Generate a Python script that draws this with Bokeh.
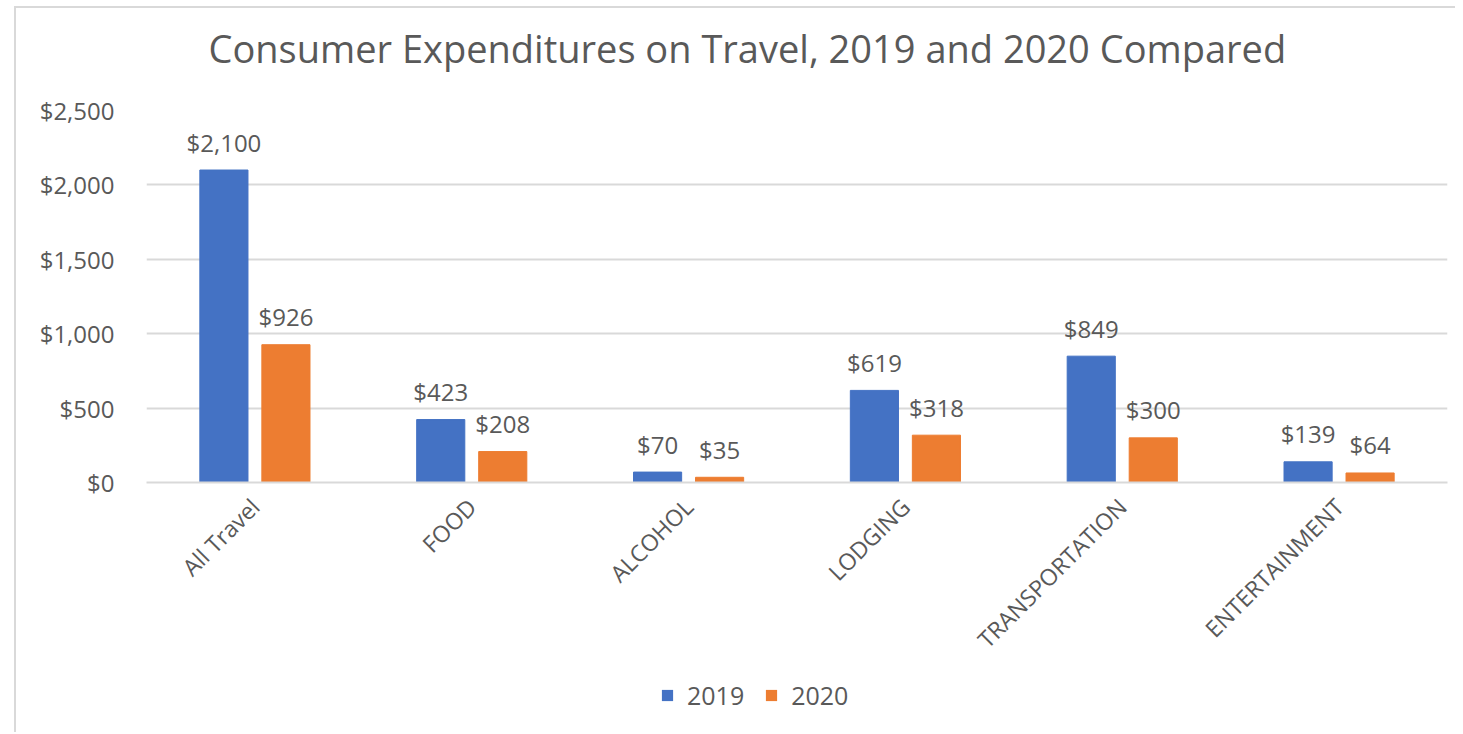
import math
from bokeh.plotting import figure
from bokeh.layouts import column
from bokeh.models import (ColumnDataSource, Legend, LegendItem, NumeralTickFormatter,
                          FixedTicker, Range1d, Title)
from bokeh.transform import dodge
from bokeh.core.properties import value
from bokeh.embed import file_html
from bokeh.resources import INLINE

categories = ["All Travel", "FOOD", "ALCOHOL", "LODGING", "TRANSPORTATION", "ENTERTAINMENT"]
spend_2019 = [2100, 423, 70, 619, 849, 139]
spend_2020 = [926, 208, 35, 318, 300, 64]
y_ticks = [0, 500, 1000, 1500, 2000, 2500]
series_names = ["2019", "2020"]

FONT = "Open Sans"
GRAY = "#595959"
GRID = "#d9d9d9"
C2019 = "#4472C4"
C2020 = "#ED7D31"

src = ColumnDataSource(dict(
    cat=categories,
    v19=spend_2019,
    v20=spend_2020,
    l19=["${:,}".format(v) for v in spend_2019],
    l20=["${:,}".format(v) for v in spend_2020],
))

p = figure(width=1439, height=660, x_range=categories, y_range=Range1d(0, 2500),
           output_backend="svg", toolbar_location=None, title=None,
           min_border_left=130, min_border_right=8, min_border_top=102, min_border_bottom=186)

# spacer (closest to frame), then the real title above it
p.add_layout(Title(text="\u00a0", text_font=FONT, text_font_size="14px", standoff=11), "above")
p.add_layout(Title(text="Consumer  Expenditures on Travel, 2019 and 2020 Compared",
                   text_font=FONT, text_font_size="38px", text_font_style="normal",
                   text_color=GRAY, align="left", offset=62, standoff=10), "above")

off = 0.143
bw = 0.222
p.vbar(x=dodge("cat", -off, range=p.x_range), top="v19", width=bw, source=src,
       fill_color=C2019, line_color=C2019)
p.vbar(x=dodge("cat", off, range=p.x_range), top="v20", width=bw, source=src,
       fill_color=C2020, line_color=C2020)

for col, lab, o in (("v19", "l19", -off), ("v20", "l20", off)):
    p.text(x=dodge("cat", o, range=p.x_range), y=col, text=lab, source=src,
           text_align="center", text_baseline="middle", y_offset=-28,
           text_font=value(FONT), text_font_size="24px", text_color=GRAY)

p.yaxis.ticker = FixedTicker(ticks=y_ticks)
p.yaxis.formatter = NumeralTickFormatter(format="$0,0")
p.yaxis.axis_line_color = None
p.yaxis.major_tick_line_color = None
p.yaxis.minor_tick_line_color = None
p.yaxis.major_label_text_font = FONT
p.yaxis.major_label_text_font_size = "24px"
p.yaxis.major_label_text_color = GRAY
p.yaxis.major_label_standoff = 26

p.xaxis.axis_line_color = GRID
p.xaxis.axis_line_width = 2
p.xaxis.major_tick_line_color = None
p.xaxis.minor_tick_line_color = None
p.xaxis.major_label_orientation = math.pi / 4
p.xaxis.major_label_text_font = FONT
p.xaxis.major_label_text_font_size = "23px"
p.xaxis.major_label_text_color = GRAY
p.xaxis.major_label_standoff = 14

p.xgrid.grid_line_color = None
p.ygrid.grid_line_color = GRID
p.ygrid.grid_line_width = 2
p.outline_line_color = None

# legend strip (frame is aligned with the main plot's frame by the column layout)
pl = figure(width=1439, height=64, x_range=Range1d(0, 1), y_range=Range1d(0, 1),
            output_backend="svg", toolbar_location=None, min_border=0)
pl.axis.visible = False
pl.grid.grid_line_color = None
pl.outline_line_color = None
k1 = pl.vbar(x=[0.5], top=[0], bottom=[0], width=0.01, fill_color=C2019, line_color=None)
k2 = pl.vbar(x=[0.5], top=[0], bottom=[0], width=0.01, fill_color=C2020, line_color=None)
legend = Legend(items=[LegendItem(label=series_names[0], renderers=[k1]),
                       LegendItem(label=series_names[1], renderers=[k2])],
                orientation="horizontal", location=(514, 20),
                padding=0, margin=0, spacing=20, label_standoff=13,
                glyph_width=14, glyph_height=14,
                label_text_font=FONT, label_text_font_size="25px", label_text_color=GRAY,
                border_line_color=None, background_fill_alpha=0)
pl.add_layout(legend, "center")

layout = column(p, pl, spacing=0)
layout.styles = {"margin-left": "14px", "margin-top": "6px",
                 "border-left": "2px solid #d9d9d9", "border-top": "2px solid #d9d9d9"}

open("out.html", "w").write(file_html(layout, INLINE))
